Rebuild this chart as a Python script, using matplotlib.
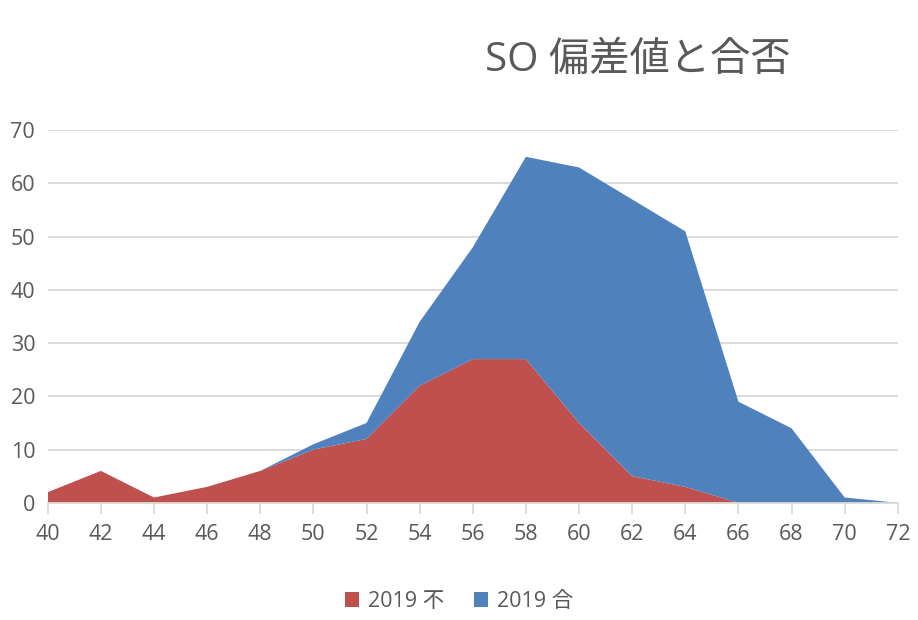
import matplotlib.pyplot as plt
import numpy as np

plt.rcParams['font.family'] = ['Open Sans', 'Noto Sans CJK JP']

x = [40, 42, 44, 46, 48, 50, 52, 54, 56, 58, 60, 62, 64, 66, 68, 70, 72]
fail = [2, 6, 1, 3, 6, 10, 12, 22, 27, 27, 15, 5, 3, 0, 0, 0, 0]
passed = [0, 0, 0, 0, 0, 1, 3, 12, 21, 38, 48, 52, 48, 19, 14, 1, 0]
labels = ['2019 不', '2019 合']
colors = ['#C0504D', '#4F81BD']
text_color = '#595959'

fig = plt.figure(figsize=(9.18, 6.2), dpi=100)
ax = fig.add_axes([0.052, 0.189, 0.926, 0.601])

ax.stackplot(x, fail, passed, labels=labels, colors=colors, zorder=2)

ax.set_xlim(40, 72)
ax.set_ylim(0, 70)
ax.set_xticks(x)
ax.set_yticks(np.arange(0, 71, 10))
ax.grid(axis='y', color='#D9D9D9', linewidth=1.3, zorder=0)
ax.set_axisbelow(True)
for s in ['top', 'right', 'left']:
    ax.spines[s].set_visible(False)
ax.spines['bottom'].set_color('#D9D9D9')
ax.spines['bottom'].set_linewidth(1.3)
ax.spines['bottom'].set_zorder(3)
ax.tick_params(axis='x', colors='#D9D9D9', length=8, width=1.3, labelsize=15.5,
               labelcolor=text_color, pad=7)
ax.tick_params(axis='y', length=0, labelsize=15.5, labelcolor=text_color, pad=9)

fig.text(0.695, 0.902, 'SO 偏差値と合否', fontsize=29, color=text_color,
         ha='center', va='center')

leg = fig.legend(loc='center', bbox_to_anchor=(0.5, 0.03), ncol=2, frameon=False,
                 fontsize=15.5, handlelength=0.65, handleheight=0.65,
                 handletextpad=0.4, columnspacing=1.4)
for t in leg.get_texts():
    t.set_color(text_color)

fig.savefig('out.png', dpi=100)
